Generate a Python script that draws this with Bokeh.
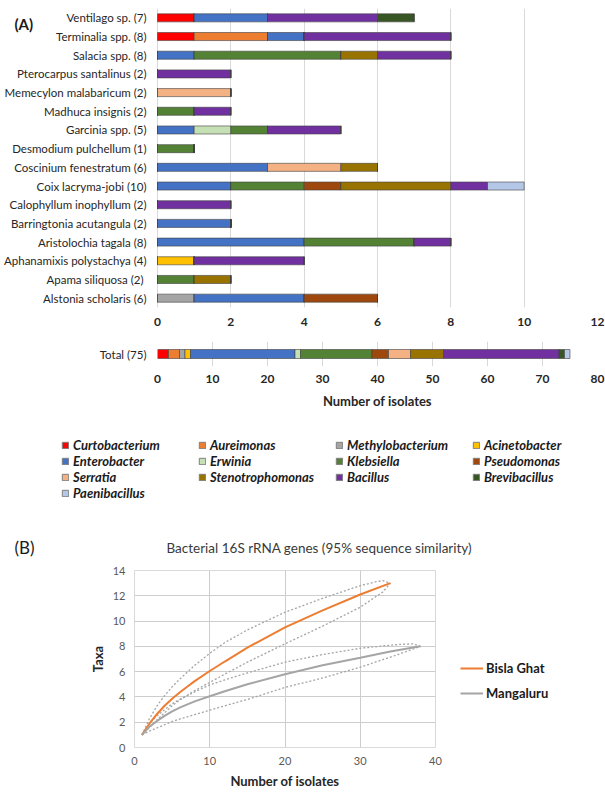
import numpy as np
from bokeh.plotting import figure
from bokeh.models import (Range1d, FactorRange, Legend, LegendItem, Label,
                          ColumnDataSource, FixedTicker)
from bokeh.core.properties import value
from bokeh.layouts import column, row
from bokeh.embed import file_html
from bokeh.resources import INLINE

FONT = "Lato"

# ---------------- data: panel (A) ----------------
plants = ["Ventilago sp.", "Terminalia spp.", "Salacia spp.", "Pterocarpus santalinus",
          "Memecylon malabaricum", "Madhuca insignis", "Garcinia spp.",
          "Desmodium pulchellum", "Coscinium fenestratum", "Coix lacryma-jobi",
          "Calophyllum inophyllum", "Barringtonia acutangula", "Aristolochia tagala",
          "Aphanamixis polystachya", "Apama  siliquosa", "Alstonia scholaris"]

genera = ["Curtobacterium", "Aureimonas", "Methylobacterium", "Acinetobacter",
          "Enterobacter", "Erwinia", "Klebsiella", "Pseudomonas",
          "Serratia", "Stenotrophomonas", "Bacillus", "Brevibacillus",
          "Paenibacillus"]

genus_colors = ["#FF0000", "#ED7D31", "#A5A5A5", "#FFC000",
                "#4472C4", "#C5E0B4", "#548235", "#9E480E",
                "#F4B183", "#997300", "#7030A0", "#375623",
                "#B4C7E7"]

# isolates per plant (same order as plants)
curtobacterium   = [1, 1, 0, 0, 0, 0, 0, 0, 0, 0, 0, 0, 0, 0, 0, 0]
aureimonas       = [0, 2, 0, 0, 0, 0, 0, 0, 0, 0, 0, 0, 0, 0, 0, 0]
methylobacterium = [0, 0, 0, 0, 0, 0, 0, 0, 0, 0, 0, 0, 0, 0, 0, 1]
acinetobacter    = [0, 0, 0, 0, 0, 0, 0, 0, 0, 0, 0, 0, 0, 1, 0, 0]
enterobacter     = [2, 1, 1, 0, 0, 0, 1, 0, 3, 2, 0, 2, 4, 0, 0, 3]
erwinia          = [0, 0, 0, 0, 0, 0, 1, 0, 0, 0, 0, 0, 0, 0, 0, 0]
klebsiella       = [0, 0, 4, 0, 0, 1, 1, 1, 0, 2, 0, 0, 3, 0, 1, 0]
pseudomonas      = [0, 0, 0, 0, 0, 0, 0, 0, 0, 1, 0, 0, 0, 0, 0, 2]
serratia         = [0, 0, 0, 0, 2, 0, 0, 0, 2, 0, 0, 0, 0, 0, 0, 0]
stenotrophomonas = [0, 0, 1, 0, 0, 0, 0, 0, 1, 3, 0, 0, 0, 0, 1, 0]
bacillus         = [3, 4, 2, 2, 0, 1, 2, 0, 0, 1, 2, 0, 1, 3, 0, 0]
brevibacillus    = [1, 0, 0, 0, 0, 0, 0, 0, 0, 0, 0, 0, 0, 0, 0, 0]
paenibacillus    = [0, 0, 0, 0, 0, 0, 0, 0, 0, 1, 0, 0, 0, 0, 0, 0]

counts = dict(zip(genera, [curtobacterium, aureimonas, methylobacterium, acinetobacter,
                           enterobacter, erwinia, klebsiella, pseudomonas, serratia,
                           stenotrophomonas, bacillus, brevibacillus, paenibacillus]))

x_ticks_a = [0, 2, 4, 6, 8, 10, 12]
x_ticks_total = [0, 10, 20, 30, 40, 50, 60, 70, 80]

# ---------------- data: panel (B) ----------------
bisla_n    = [1, 2, 3, 4, 5, 6, 7, 8, 10, 12, 15, 20, 25, 30, 34]
bisla_taxa = [1, 1.9, 2.65, 3.3, 3.85, 4.35, 4.8, 5.25, 6.05, 6.8, 7.9, 9.5, 10.85, 12.1, 13.0]
bisla_up_n = [1, 2, 3, 4, 5, 6, 8, 10, 12, 15, 20, 25, 30, 32, 33, 34]
bisla_up   = [1, 2.3, 3.3, 4.1, 4.8, 5.4, 6.5, 7.45, 8.3, 9.3, 10.7, 11.8, 12.8, 13.1, 13.2, 13.0]
bisla_lo_n = [1, 2, 3, 4, 5, 6, 8, 10, 12, 15, 20, 25, 30, 33, 34]
bisla_lo   = [1, 1.6, 2.2, 2.75, 3.3, 3.75, 4.5, 5.15, 5.8, 6.75, 8.2, 9.6, 11.1, 12.3, 13.0]

mang_n    = [1, 2, 3, 4, 5, 6, 8, 10, 12, 15, 20, 25, 30, 34, 38]
mang_taxa = [1, 1.65, 2.1, 2.5, 2.85, 3.15, 3.65, 4.05, 4.45, 5.0, 5.8, 6.5, 7.1, 7.6, 8.0]
mang_up_n = [1, 2, 3, 4, 5, 6, 8, 10, 12, 15, 20, 25, 30, 35, 37, 38]
mang_up   = [1, 1.9, 2.5, 3.0, 3.45, 3.8, 4.4, 4.95, 5.35, 5.9, 6.75, 7.35, 7.85, 8.15, 8.2, 8.0]
mang_lo_n = [1, 2, 3, 4, 5, 6, 8, 10, 12, 15, 20, 25, 30, 35, 38]
mang_lo   = [1, 1.3, 1.55, 1.8, 2.05, 2.25, 2.6, 2.95, 3.3, 3.8, 4.75, 5.5, 6.35, 7.35, 8.0]

x_ticks_b = [0, 10, 20, 30, 40]
y_ticks_b = [0, 2, 4, 6, 8, 10, 12, 14]

# ---------------- styling helpers ----------------
GRID = "#d9d9d9"
GRID_C = "#cdcdcd"
BAR_LINE = "#404040"
TXT = "#262626"
W = 605


def style_axes(p):
    p.background_fill_color = "white"
    p.border_fill_color = "white"
    for ax in p.axis:
        ax.axis_line_color = None
        ax.major_tick_line_color = None
        ax.minor_tick_line_color = None
        ax.major_tick_out = 0
        ax.major_tick_in = 0
        ax.minor_tick_out = 0


def blank(p):
    p.grid.grid_line_color = None
    p.outline_line_color = None
    p.background_fill_color = "white"
    p.border_fill_color = "white"


# ---------------- figure A (per plant) ----------------
plant_totals = [int(sum(counts[g][i] for g in genera)) for i in range(len(plants))]
labels = [f"{p} ({n})" for p, n in zip(plants, plant_totals)]

# the frame covers the whole width; the value 0 sits 157 px from the left edge
A_zero, A_right = 157, 8
A_px = (W - A_right - A_zero) / 12.0
xa0 = -A_zero / A_px

srcA = ColumnDataSource(dict(label=labels, **{g: counts[g] for g in genera}))
pA = figure(width=W, height=338, x_range=Range1d(xa0, 12),
            y_range=FactorRange(*labels[::-1]), y_axis_location=None,
            output_backend="svg", toolbar_location=None, frame_align=False,
            min_border_left=0, min_border_right=A_right, min_border_top=8,
            min_border_bottom=31)
pA.outline_line_color = None
style_axes(pA)
pA.hbar_stack(genera, y="label", height=0.43, fill_color=genus_colors,
              line_color=BAR_LINE, line_width=0.6, source=srcA)
pA.text(x=0, y="label", text="label", source=srcA, x_offset=-11,
        text_align="right", text_baseline="middle", text_font=value(FONT),
        text_font_size=value("11.5px"), text_color=TXT)
pA.xaxis.ticker = FixedTicker(ticks=x_ticks_a)
pA.xgrid.ticker = FixedTicker(ticks=x_ticks_a)
pA.xgrid.grid_line_color = GRID
pA.ygrid.grid_line_color = None
pA.xaxis.major_label_text_font = FONT
pA.xaxis.major_label_text_font_size = "12px"
pA.xaxis.major_label_text_font_style = "bold"
pA.xaxis.major_label_text_color = TXT
pA.xaxis.major_label_standoff = 10
pA.add_layout(Label(x=xa0 + 14 / A_px, y=15.15, text="(A)", text_font=FONT,
                    text_font_size="15px", text_font_style="bold",
                    text_color="#1a1a1a", text_baseline="middle"))

# ---------------- figure A2 (total) ----------------
total = int(sum(plant_totals))
total_label = f"Total ({total})"
srcT = ColumnDataSource(dict(label=[total_label], **{g: [int(sum(counts[g]))] for g in genera}))
pB = figure(width=W, height=74, x_range=Range1d(0, 80),
            y_range=FactorRange(total_label),
            output_backend="svg", toolbar_location=None, frame_align=False,
            min_border_left=157, min_border_right=8, min_border_top=3,
            min_border_bottom=46)
pB.outline_line_color = None
style_axes(pB)
pB.hbar_stack(genera, y="label", height=0.36, fill_color=genus_colors,
              line_color=BAR_LINE, line_width=0.6, source=srcT)
pB.xaxis.ticker = FixedTicker(ticks=x_ticks_total)
pB.xgrid.ticker = FixedTicker(ticks=x_ticks_total)
pB.xgrid.grid_line_color = GRID
pB.ygrid.grid_line_color = None
pB.xaxis.major_label_text_font = FONT
pB.xaxis.major_label_text_font_size = "12px"
pB.xaxis.major_label_text_font_style = "bold"
pB.xaxis.major_label_text_color = TXT
pB.xaxis.major_label_standoff = 8
pB.xaxis.axis_label = "Number of isolates"
pB.xaxis.axis_label_text_font = FONT
pB.xaxis.axis_label_text_font_size = "13px"
pB.xaxis.axis_label_text_font_style = "bold"
pB.xaxis.axis_label_text_color = TXT
pB.xaxis.axis_label_standoff = 7
pB.yaxis.major_label_text_font = FONT
pB.yaxis.major_label_text_font_size = "11.5px"
pB.yaxis.major_label_text_color = TXT
pB.yaxis.major_label_standoff = 11

# ---------------- legend of the genera ----------------
pD = figure(width=W, height=108, x_range=Range1d(0, 80), y_range=FactorRange(total_label),
            output_backend="svg", toolbar_location=None, frame_align=False,
            x_axis_location=None, y_axis_location=None,
            min_border_left=0, min_border_right=0, min_border_top=0, min_border_bottom=0)
blank(pD)
rendsD = pD.hbar_stack(genera, y="label", height=0.36, fill_color=genus_colors,
                       line_color="#7f7f7f", line_width=1, source=srcT)
for r in rendsD:
    r.visible = False
legD = Legend(items=[LegendItem(label=g, renderers=[r]) for g, r in zip(genera, rendsD)],
              orientation="horizontal", ncols=4, location=(61, 19),
              padding=0, spacing=0, margin=0, glyph_width=8, glyph_height=8,
              label_width=125, label_height=16, label_standoff=4,
              label_text_font=FONT, label_text_font_size="13px",
              label_text_font_style="bold italic", label_text_color="#1a1a1a",
              inactive_fill_alpha=0,
              background_fill_alpha=0, border_line_color=None)
pD.add_layout(legD)

# ---------------- header for panel (B) ----------------
pH = figure(width=W, height=40, x_range=Range1d(0, W), y_range=Range1d(0, 40),
            output_backend="svg", toolbar_location=None, frame_align=False,
            x_axis_location=None, y_axis_location=None,
            min_border_left=0, min_border_right=0, min_border_top=0, min_border_bottom=0)
blank(pH)
pH.add_layout(Label(x=14, y=13, text="(B)", text_font=FONT, text_font_size="17px",
                    text_color="#1a1a1a", text_baseline="middle"))
pH.add_layout(Label(x=166, y=13, text="Bacterial 16S rRNA genes (95% sequence similarity)",
                    text_font=FONT, text_font_size="13.5px", text_color="#3a3a3a",
                    text_baseline="middle"))

# ---------------- figure B (rarefaction) ----------------
C_W = 443
pC = figure(width=C_W, height=232, x_range=Range1d(0, 40), y_range=Range1d(0, 14),
            output_backend="svg", toolbar_location=None, frame_align=False,
            min_border_left=134, min_border_right=8, min_border_top=10,
            min_border_bottom=45)
style_axes(pC)
pC.outline_line_color = GRID
for ax in pC.axis:
    ax.major_label_text_font = FONT
    ax.major_label_text_font_size = "11px"
    ax.major_label_text_color = "#595959"
    ax.axis_label_text_font = FONT
    ax.axis_label_text_font_size = "13px"
    ax.axis_label_text_font_style = "bold"
    ax.axis_label_text_color = TXT
pC.xaxis.ticker = FixedTicker(ticks=x_ticks_b)
pC.yaxis.ticker = FixedTicker(ticks=y_ticks_b)
pC.xgrid.ticker = FixedTicker(ticks=x_ticks_b)
pC.ygrid.ticker = FixedTicker(ticks=y_ticks_b)
pC.grid.grid_line_color = GRID_C
pC.grid.grid_line_width = 1
pC.xaxis.major_label_standoff = 9
pC.xaxis.axis_label = "Number of isolates"
pC.xaxis.axis_label_standoff = 5
pC.yaxis.major_label_standoff = 9
pC.yaxis.axis_label = "Taxa"
pC.yaxis.axis_label_standoff = 4

DOT = dict(line_color="#A5A5A5", line_width=1.3, line_dash="2 2")
BISLA = dict(line_color="#ED7D31", line_width=2)
MANG = dict(line_color="#A5A5A5", line_width=2)
pC.line(bisla_up_n, bisla_up, **DOT)
pC.line(bisla_lo_n, bisla_lo, **DOT)
pC.line(mang_up_n, mang_up, **DOT)
pC.line(mang_lo_n, mang_lo, **DOT)
pC.line(bisla_n, bisla_taxa, **BISLA)
pC.line(mang_n, mang_taxa, **MANG)

# legend panel to the right of the rarefaction plot (hidden copies give the keys)
pL = figure(width=W - C_W, height=232, x_range=Range1d(0, 40), y_range=Range1d(0, 14),
            output_backend="svg", toolbar_location=None, frame_align=False,
            x_axis_location=None, y_axis_location=None,
            min_border_left=0, min_border_right=0, min_border_top=0, min_border_bottom=0)
blank(pL)
rb = pL.line(bisla_n, bisla_taxa, **BISLA)
rm = pL.line(mang_n, mang_taxa, **MANG)
rb.visible = False
rm.visible = False
legC = Legend(items=[LegendItem(label="Bisla Ghat", renderers=[rb]),
                     LegendItem(label="Mangaluru", renderers=[rm])],
              location=(460 - C_W, 89), padding=0, spacing=5, margin=0,
              glyph_width=23, glyph_height=20, label_height=20, label_standoff=3,
              label_text_font=FONT, label_text_font_size="13px",
              label_text_font_style="bold", label_text_color="#1a1a1a",
              inactive_fill_alpha=0,
              background_fill_alpha=0, border_line_color=None)
pL.add_layout(legC)

layout = column(pA, pB, pD, pH, row(pC, pL, spacing=0), spacing=0)
open("out.html", "w").write(file_html(layout, INLINE))
